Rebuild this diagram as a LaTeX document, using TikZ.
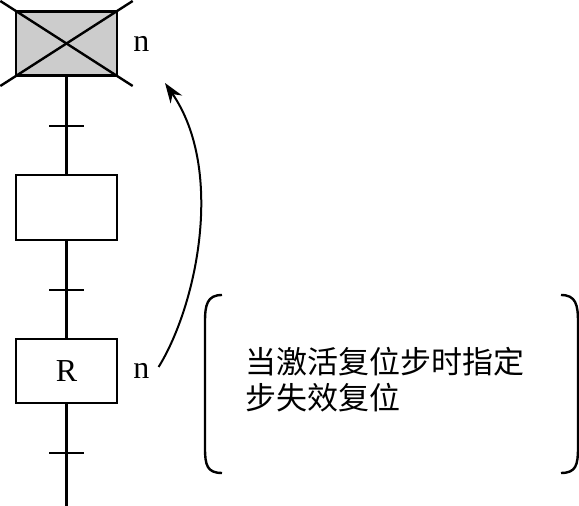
\documentclass[tikz,border=0pt]{standalone}
\usepackage{fontspec}
\setmainfont{Liberation Serif}
\newfontfamily\cjk{Noto Sans CJK SC}
\usetikzlibrary{positioning,calc,arrows.meta}

\begin{document}
\begin{tikzpicture}[x=0.5pt,y=-0.5pt,line width=1.2pt,
  stepbox/.style={draw,minimum width=50.5pt,minimum height=32pt,inner sep=0pt,font=\fontsize{16}{18}\selectfont},
  lbl/.style={font=\fontsize{16}{18}\selectfont,inner sep=1pt}]
\useasboundingbox (0,0) rectangle (579,506);

% Steps
\node[stepbox,fill=gray!40] (s1) at (66.5,43.5) {};
\node[stepbox,minimum height=32.5pt] (s2) at (66.5,207.5) {};
\node[stepbox] (s3) at (66.5,371) {R};
\coordinate (end) at (66.5,506);

% Crossed out step
\draw ($(s1.north west)!-0.14!(s1.south east)$) -- ($(s1.south east)!-0.14!(s1.north west)$);
\draw ($(s1.south west)!-0.14!(s1.north east)$) -- ($(s1.north east)!-0.14!(s1.south west)$);

% Links and transitions
\draw (s1) -- (s2) -- (s3) -- (end);
\foreach \y in {126,290,453}{
  \draw (49,\y) -- (84,\y);
}

% Labels
\node[lbl,right=6pt of s1] (n1) {n};
\node[lbl,right=6pt of s3] (n3) {n};
\coordinate (tip) at (165,83);
\draw[line width=1pt,-{Stealth[length=10pt,width=7pt]}] ([shift={(6,-4)}]n3.east) .. controls (197,305) and (225,170) .. (tip);

% Note
\node[font=\cjk\fontsize{15.5}{18}\selectfont,align=left,anchor=west] (note) at (238,380) {当激活复位步时指定\\步失效复位};
\draw (222,295) .. controls (207,295) and (205,305) .. (205,322) -- (205,448) .. controls (205,465) and (207,473) .. (222,473);
\draw (561,295) .. controls (576,295) and (578,305) .. (578,322) -- (578,448) .. controls (578,465) and (576,473) .. (561,473);

\end{tikzpicture}
\end{document}
